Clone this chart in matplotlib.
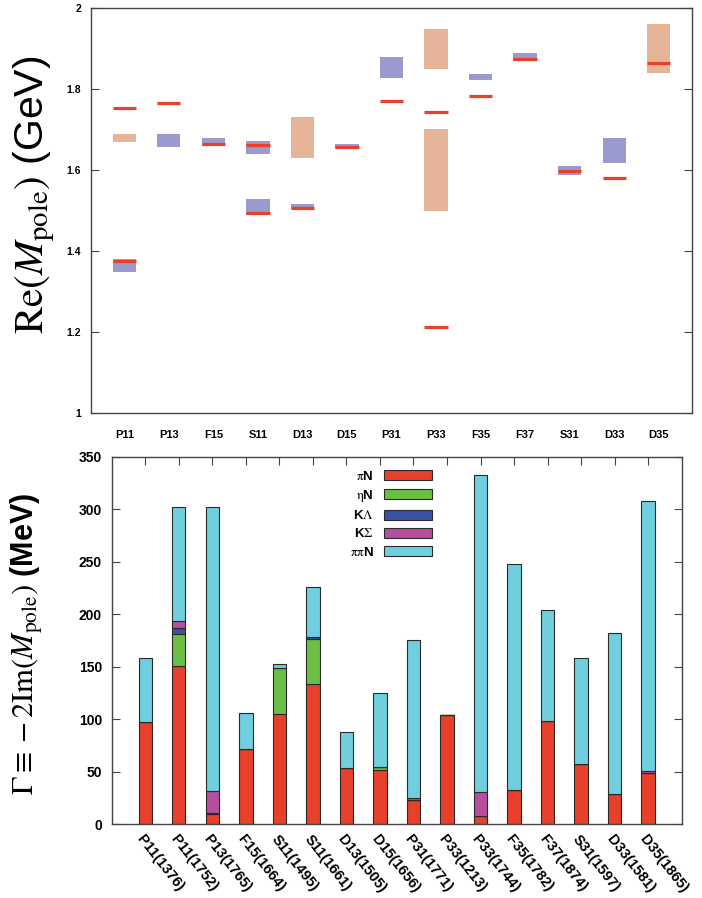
import numpy as np
import matplotlib
matplotlib.use('Agg')
from matplotlib import pyplot as plt

plt.rcParams['font.family'] = ['Liberation Sans', 'DejaVu Sans']
plt.rcParams['mathtext.fontset'] = 'stix'

# Top panel: Re(M_pole) per partial wave
waves = ['P11', 'P13', 'F15', 'S11', 'D13', 'D15', 'P31', 'P33', 'F35', 'F37', 'S31', 'D33', 'D35']

# model poles (red lines)
pole_wave = ['P11', 'P11', 'P13', 'F15', 'S11', 'S11', 'D13', 'D15', 'P31',
             'P33', 'P33', 'F35', 'F37', 'S31', 'D33', 'D35']
pole_re = [1.376, 1.752, 1.765, 1.664, 1.495, 1.661, 1.505, 1.656, 1.771,
           1.213, 1.744, 1.782, 1.874, 1.597, 1.581, 1.865]

# reference ranges (boxes)
box_wave = ['P11', 'P11', 'P13', 'F15', 'S11', 'S11', 'D13', 'D13', 'D15',
            'P31', 'P33', 'P33', 'F35', 'F37', 'S31', 'D33', 'D35']
box_lo = [1.347, 1.669, 1.658, 1.660, 1.640, 1.489, 1.629, 1.503, 1.652,
          1.827, 1.849, 1.498, 1.823, 1.868, 1.588, 1.617, 1.839]
box_hi = [1.379, 1.690, 1.690, 1.680, 1.671, 1.529, 1.731, 1.515, 1.664,
          1.880, 1.949, 1.701, 1.836, 1.890, 1.611, 1.680, 1.960]
box_kind = ['b', 'o', 'b', 'b', 'b', 'b', 'o', 'b', 'b',
            'b', 'o', 'o', 'b', 'b', 'b', 'b', 'o']

# Bottom panel: widths split by channel (MeV)
res_labels = ['P11(1376)', 'P11(1752)', 'P13(1765)', 'F15(1664)', 'S11(1495)', 'S11(1661)',
              'D13(1505)', 'D15(1656)', 'P31(1771)', 'P33(1213)', 'P33(1744)', 'F35(1782)',
              'F37(1874)', 'S31(1597)', 'D33(1581)', 'D35(1865)']
w_piN = [97, 151, 9.5, 71, 105, 133, 53, 51, 22.5, 104, 7.5, 32, 98, 57, 29, 48.5]
w_etaN = [0, 30, 0, 0, 43.5, 43, 0, 3, 0, 0, 0, 0, 0, 0, 0, 0]
w_KLam = [0, 6, 0.8, 0, 0, 2, 0, 0, 0, 0, 0, 0.8, 0, 0, 0, 0]
w_KSig = [0, 6, 21, 0, 0, 0, 0, 0, 2, 0, 23, 0, 0, 0, 0, 2]
w_pipiN = [61, 109, 271, 35, 3.5, 48, 35, 71, 151, 0, 302, 215, 106, 101, 153, 257]

channels = [r'$\mathrm{\pi}$N', r'$\mathrm{\eta}$N', r'K$\Lambda$', r'K$\Sigma$',
            r'$\mathrm{\pi\pi}$N']
chan_colors = ['#e8402a', '#6cbf45', '#3a52a4', '#b84e9e', '#6fcfdf']

red = '#e8402a'
box_colors = {'b': '#9a9acf', 'o': '#e5b398'}
spine_col = '#444444'

fig = plt.figure(figsize=(7.02, 8.98), dpi=100)

# ---- top panel
ax1 = fig.add_axes([0.1296, 0.5401, 0.8562, 0.4510])
xpos = {w: i for i, w in enumerate(waves)}
bw = 0.52
for w, lo, hi, k in zip(box_wave, box_lo, box_hi, box_kind):
    ax1.bar(xpos[w], hi - lo, bottom=lo, width=bw, color=box_colors[k],
            edgecolor='none', zorder=1)
for w, m in zip(pole_wave, pole_re):
    ax1.hlines(m, xpos[w] - bw / 2, xpos[w] + bw / 2, color=red, lw=2.3, zorder=2)
ax1.set_xlim(-0.75, 12.75)
ax1.set_ylim(1, 2)
ax1.set_xticks(range(len(waves)))
ax1.set_xticklabels(waves, fontsize=8, fontweight='bold')
ax1.set_yticks(np.arange(1, 2.01, 0.2))
ax1.set_yticklabels(['1', '1.2', '1.4', '1.6', '1.8', '2'], fontsize=7.5, fontweight='bold')
ax1.tick_params(axis='x', length=0, pad=12)
ax1.tick_params(axis='y', direction='in', length=6, width=0.8, right=True, pad=7,
                color=spine_col)
for s in ax1.spines.values():
    s.set_color(spine_col)
    s.set_linewidth(1.0)
ax1.set_ylabel(r'$\mathrm{Re}(M_{\mathrm{pole}})$ (GeV)', fontsize=29.5, va='center')
ax1.yaxis.set_label_coords(-0.094, 0.54)

# ---- bottom panel
ax2 = fig.add_axes([0.1591, 0.0824, 0.8120, 0.4090])
x = np.arange(len(res_labels))
bottom = np.zeros(len(res_labels))
for vals, lab, col in zip([w_piN, w_etaN, w_KLam, w_KSig, w_pipiN], channels, chan_colors):
    vals = np.array(vals, dtype=float)
    ax2.bar(x, vals, bottom=bottom, width=0.4, color=col, edgecolor='#2a2a2a',
            linewidth=0.8, label=lab, zorder=2)
    bottom += vals
ax2.set_xlim(-1, 16)
ax2.set_ylim(0, 350)
ax2.set_yticks(np.arange(0, 351, 50))
ax2.set_yticklabels([str(v) for v in range(0, 351, 50)], fontsize=10, fontweight='bold')
ax2.set_xticks(x)
ax2.set_xticklabels(res_labels, fontsize=10.5, fontweight='bold', rotation=-52,
                    ha='left', va='top', rotation_mode='anchor')
ax2.tick_params(axis='x', top=True, direction='in', length=6, width=0.8, pad=6,
                color=spine_col)
for t in ax2.xaxis.get_major_ticks():
    t.tick1line.set_visible(False)
ax2.tick_params(axis='y', direction='in', length=6, width=0.8, right=True, pad=7,
                color=spine_col)
for s in ax2.spines.values():
    s.set_color(spine_col)
    s.set_linewidth(1.0)
ax2.set_ylabel(r'$\Gamma\equiv -2\mathrm{Im}(M_{\mathrm{pole}})$ (MeV)', fontsize=22,
               va='center', fontweight='bold')
ax2.yaxis.set_label_coords(-0.149, 0.49)

leg = ax2.legend(loc='upper right', bbox_to_anchor=(0.578, 0.99), frameon=False,
                 markerfirst=False, handlelength=3.6, handleheight=0.8,
                 handletextpad=0.8, labelspacing=0.4, borderpad=0.2,
                 prop={'size': 9.5, 'weight': 'bold'})

fig.savefig('out.png', dpi=100)
